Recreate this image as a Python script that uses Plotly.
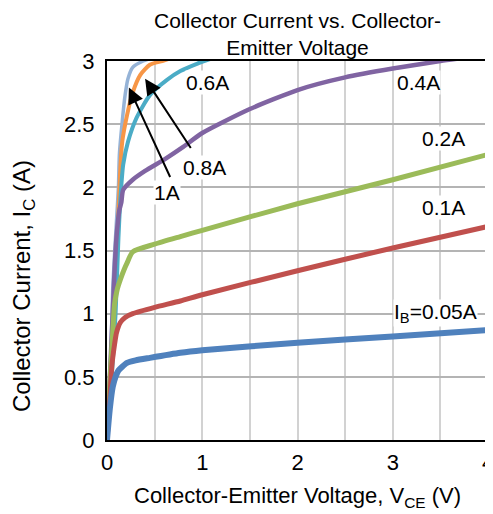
import plotly.graph_objects as go

# ---- data ----
vce_005 = [0, 0.03, 0.06, 0.09, 0.12, 0.16, 0.21, 0.3, 0.45, 0.77, 1.0, 2.0, 3.0, 4.0]
ic_005 = [0, 0.25, 0.42, 0.50, 0.55, 0.58, 0.61, 0.63, 0.65, 0.69, 0.71, 0.77, 0.82, 0.87]

vce_01 = [0, 0.03, 0.05, 0.08, 0.1, 0.14, 0.19, 0.27, 0.5, 0.77, 1.0, 2.0, 3.0, 4.0]
ic_01 = [0, 0.33, 0.58, 0.76, 0.85, 0.93, 0.97, 1.0, 1.05, 1.10, 1.15, 1.34, 1.52, 1.69]

vce_02 = [0, 0.03, 0.06, 0.08, 0.11, 0.14, 0.18, 0.21, 0.27, 0.5, 0.77, 1.0, 2.0, 3.0, 4.0]
ic_02 = [0, 0.45, 0.85, 1.08, 1.20, 1.27, 1.35, 1.40, 1.49, 1.55, 1.61, 1.66, 1.87, 2.06, 2.26]

vce_04 = [0, 0.03, 0.06, 0.08, 0.1, 0.13, 0.15, 0.17, 0.27, 0.4, 0.6, 0.8, 1.0, 1.5, 2.0, 2.5, 3.0, 3.5, 4.0]
ic_04 = [0, 0.5, 1.0, 1.35, 1.61, 1.82, 1.88, 1.98, 2.06, 2.13, 2.22, 2.32, 2.43, 2.62, 2.77, 2.87, 2.94, 3.0, 3.05]

vce_06 = [0, 0.05, 0.09, 0.12, 0.14, 0.17, 0.22, 0.31, 0.45, 0.63, 0.77, 0.95, 1.1]
ic_06 = [0, 0.5, 1.0, 1.6, 1.9, 2.18, 2.36, 2.55, 2.73, 2.85, 2.92, 2.98, 3.02]

vce_08 = [0, 0.04, 0.08, 0.12, 0.14, 0.16, 0.21, 0.27, 0.35, 0.45, 0.58, 0.7]
ic_08 = [0, 0.5, 1.1, 1.8, 2.15, 2.36, 2.57, 2.75, 2.89, 2.97, 3.0, 3.03]

vce_1 = [0, 0.03, 0.06, 0.1, 0.12, 0.13, 0.16, 0.19, 0.22, 0.27, 0.38, 0.5]
ic_1 = [0, 0.4, 1.2, 1.74, 2.0, 2.26, 2.52, 2.73, 2.86, 2.95, 3.0, 3.03]

series = [
    ("1A", vce_1, ic_1, "#95B3D7", 3.5),
    ("0.8A", vce_08, ic_08, "#F79646", 4),
    ("0.6A", vce_06, ic_06, "#4BACC6", 4),
    ("0.4A", vce_04, ic_04, "#8064A2", 4.5),
    ("0.2A", vce_02, ic_02, "#9BBB59", 5),
    ("0.1A", vce_01, ic_01, "#C0504D", 5),
    ("0.05A", vce_005, ic_005, "#4F81BD", 6),
]

x_ticks = [0, 1, 2, 3, 4]
y_ticks = [0, 0.5, 1, 1.5, 2, 2.5, 3]

FONT = "Liberation Sans, Arial, sans-serif"

fig = go.Figure()
for name, xs, ys, color, w in series:
    fig.add_trace(go.Scatter(x=xs, y=ys, mode="lines", name=name,
                             line=dict(color=color, width=w, shape="spline", smoothing=0.6),
                             showlegend=False, hoverinfo="skip"))

# page body has an 8px margin, so the figure is 8px smaller and margins are shifted
fig.update_layout(
    width=485, height=506,
    margin=dict(l=99, r=5, t=53, b=74, autoexpand=False),
    paper_bgcolor="white", plot_bgcolor="white",
    font=dict(family=FONT, size=22, color="black"),
    showlegend=False,
)

fig.update_xaxes(range=[0, 4], tickvals=x_ticks, ticktext=[str(v) for v in x_ticks],
                 showgrid=True, gridcolor="#d2d2d2", gridwidth=1.5,
                 minor=dict(dtick=0.5, showgrid=True, gridcolor="#d2d2d2", gridwidth=1.5),
                 showline=True, linecolor="black", linewidth=2, mirror=True,
                 zeroline=False, ticks="", tickfont=dict(size=22), ticklabelstandoff=2,
                 ticklabeloverflow="allow", automargin=False)
fig.update_yaxes(range=[0, 3], tickvals=y_ticks, ticktext=["0", "0.5", "1", "1.5", "2", "2.5", "3"],
                 showgrid=True, gridcolor="#b4b4b4", gridwidth=1.5,
                 showline=True, linecolor="black", linewidth=2, mirror=True,
                 zeroline=False, ticks="", tickfont=dict(size=22), ticklabelstandoff=6,
                 ticklabeloverflow="allow", automargin=False)

# chart title
fig.add_annotation(text="Collector Current vs. Collector-<br>Emitter Voltage",
                   xref="paper", yref="paper", x=0.5, y=1.070,
                   xanchor="center", yanchor="middle", showarrow=False,
                   font=dict(size=21))

# axis titles
fig.add_annotation(text="Collector Current, I<sub>C</sub> (A)", textangle=-90,
                   xref="paper", yref="paper", x=-0.2205, y=0.406,
                   xanchor="center", yanchor="middle", showarrow=False,
                   font=dict(size=24))
fig.add_annotation(text="Collector-Emitter Voltage, V<sub>CE</sub> (V)",
                   xref="paper", yref="paper", x=0.5, y=-0.150,
                   xanchor="center", yanchor="middle", showarrow=False,
                   font=dict(size=22))

# curve labels
labels = [
    ("0.6A", 1.06, 2.83),
    ("0.8A", 1.02, 2.16),
    ("1A", 0.63, 1.96),
    ("0.4A", 3.27, 2.83),
    ("0.2A", 3.53, 2.39),
    ("0.1A", 3.53, 1.84),
    ("I<sub>B</sub>=0.05A", 3.45, 1.005),
]
for txt, lx, ly in labels:
    fig.add_annotation(text=txt, x=lx, y=ly, xref="x", yref="y", showarrow=False,
                       bgcolor="white", borderpad=0, font=dict(size=21))

# arrows
arrows = [
    (0.40, 2.86, 0.89, 2.30),
    (0.23, 2.79, 0.67, 2.07),
]
for tx, ty, sx, sy in arrows:
    fig.add_annotation(text="", x=tx, y=ty, ax=sx, ay=sy, xref="x", yref="y",
                       axref="x", ayref="y", showarrow=True, arrowhead=2,
                       arrowsize=1.6, arrowwidth=2, arrowcolor="black")

fig.write_html("out.html")
